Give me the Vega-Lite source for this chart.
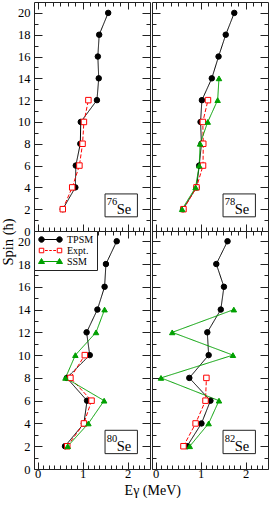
{
"$schema": "https://vega.github.io/schema/vega-lite/v6.json",
"padding": {"left": 0, "top": 1, "right": 0, "bottom": 0},
"datasets": {
"pts": [
{"n":"76","m":"TPSM","s":2,"E":0.56},{"n":"76","m":"TPSM","s":4,"E":0.84},{"n":"76","m":"TPSM","s":6,"E":0.85},{"n":"76","m":"TPSM","s":8,"E":0.95},{"n":"76","m":"TPSM","s":10,"E":0.96},{"n":"76","m":"TPSM","s":12,"E":1.32},{"n":"76","m":"TPSM","s":14,"E":1.36},{"n":"76","m":"TPSM","s":16,"E":1.34},{"n":"76","m":"TPSM","s":18,"E":1.37},{"n":"76","m":"TPSM","s":20,"E":1.57},
{"n":"76","m":"Expt.","s":2,"E":0.56},{"n":"76","m":"Expt.","s":4,"E":0.77},{"n":"76","m":"Expt.","s":6,"E":0.93},{"n":"76","m":"Expt.","s":8,"E":1.0},{"n":"76","m":"Expt.","s":10,"E":1.03},{"n":"76","m":"Expt.","s":12,"E":1.13},
{"n":"78","m":"TPSM","s":2,"E":0.61},{"n":"78","m":"TPSM","s":4,"E":0.91},{"n":"78","m":"TPSM","s":6,"E":0.97},{"n":"78","m":"TPSM","s":8,"E":1.02},{"n":"78","m":"TPSM","s":10,"E":1.0},{"n":"78","m":"TPSM","s":12,"E":1.03},{"n":"78","m":"TPSM","s":14,"E":1.25},{"n":"78","m":"TPSM","s":16,"E":1.4},{"n":"78","m":"TPSM","s":18,"E":1.56},{"n":"78","m":"TPSM","s":20,"E":1.75},
{"n":"78","m":"Expt.","s":2,"E":0.62},{"n":"78","m":"Expt.","s":4,"E":0.91},{"n":"78","m":"Expt.","s":6,"E":1.055},{"n":"78","m":"Expt.","s":8,"E":1.06},{"n":"78","m":"Expt.","s":10,"E":1.05},{"n":"78","m":"Expt.","s":12,"E":1.165},
{"n":"78","m":"SSM","s":2,"E":0.59},{"n":"78","m":"SSM","s":4,"E":0.89},{"n":"78","m":"SSM","s":6,"E":0.97},{"n":"78","m":"SSM","s":8,"E":0.99},{"n":"78","m":"SSM","s":10,"E":1.16},{"n":"78","m":"SSM","s":12,"E":1.38},{"n":"78","m":"SSM","s":14,"E":1.41},
{"n":"80","m":"TPSM","s":2,"E":0.61},{"n":"80","m":"TPSM","s":4,"E":1.03},{"n":"80","m":"TPSM","s":6,"E":1.1},{"n":"80","m":"TPSM","s":8,"E":0.65},{"n":"80","m":"TPSM","s":10,"E":1.16},{"n":"80","m":"TPSM","s":12,"E":1.09},{"n":"80","m":"TPSM","s":14,"E":1.33},{"n":"80","m":"TPSM","s":16,"E":1.49},{"n":"80","m":"TPSM","s":18,"E":1.52},{"n":"80","m":"TPSM","s":20,"E":1.76},
{"n":"80","m":"Expt.","s":2,"E":0.66},{"n":"80","m":"Expt.","s":4,"E":1.03},{"n":"80","m":"Expt.","s":6,"E":1.2},{"n":"80","m":"Expt.","s":8,"E":0.73},{"n":"80","m":"Expt.","s":10,"E":1.05},
{"n":"80","m":"SSM","s":2,"E":0.67},{"n":"80","m":"SSM","s":4,"E":1.13},{"n":"80","m":"SSM","s":6,"E":1.48},{"n":"80","m":"SSM","s":8,"E":0.62},{"n":"80","m":"SSM","s":10,"E":0.84},{"n":"80","m":"SSM","s":12,"E":1.3},{"n":"80","m":"SSM","s":14,"E":1.49},
{"n":"82","m":"TPSM","s":2,"E":0.7},{"n":"82","m":"TPSM","s":4,"E":1.02},{"n":"82","m":"TPSM","s":6,"E":1.22},{"n":"82","m":"TPSM","s":8,"E":0.75},{"n":"82","m":"TPSM","s":10,"E":1.18},{"n":"82","m":"TPSM","s":12,"E":1.15},{"n":"82","m":"TPSM","s":14,"E":1.45},{"n":"82","m":"TPSM","s":16,"E":1.52},{"n":"82","m":"TPSM","s":18,"E":1.35},{"n":"82","m":"TPSM","s":20,"E":1.6},
{"n":"82","m":"Expt.","s":2,"E":0.62},{"n":"82","m":"Expt.","s":4,"E":0.89},{"n":"82","m":"Expt.","s":6,"E":1.11},{"n":"82","m":"Expt.","s":8,"E":1.13},
{"n":"82","m":"SSM","s":2,"E":0.76},{"n":"82","m":"SSM","s":4,"E":1.18},{"n":"82","m":"SSM","s":6,"E":1.41},{"n":"82","m":"SSM","s":8,"E":0.12},{"n":"82","m":"SSM","s":10,"E":1.72},{"n":"82","m":"SSM","s":12,"E":0.37},{"n":"82","m":"SSM","s":14,"E":1.74}
]
},
"title": {"text": "Eγ (MeV)", "orient": "bottom", "anchor": "middle", "frame": "bounds", "dx": 18, "offset": 1, "font": "Liberation Serif", "fontSize": 14, "fontWeight": "normal", "color": "black"},
"spacing": 0,
"resolve": {"scale": {"color": "independent", "fill": "independent", "stroke": "independent", "shape": "independent", "strokeDash": "independent"}},
"hconcat": [
{
"spacing": 0, "bounds": "flush",
"title": {"text": "Spin (ħ)", "orient": "left", "anchor": "middle", "frame": "bounds", "offset": 1, "font": "Liberation Serif", "fontSize": 14.5, "fontWeight": "normal", "color": "black"},
"resolve": {"scale": {"color": "independent", "fill": "independent", "stroke": "independent", "shape": "independent", "strokeDash": "independent"}},
"vconcat": [
{
"width": 116, "height": 229,
"resolve": {"axis": {"x": "independent", "y": "independent"}},
"layer": [
{"data": {"name": "pts"}, "transform": [{"filter": "datum.n === '76'"}],
 "mark": {"type": "line", "strokeWidth": 1},
 "encoding": {
  "x": {"field": "E", "type": "quantitative", "scale": {"domain": [-0.08, 2.5], "nice": false, "zero": false},
        "axis": {"orient": "bottom", "values": [0,0.125,0.25,0.375,0.5,0.625,0.75,0.875,1,1.125,1.25,1.375,1.5,1.625,1.75,1.875,2,2.125,2.25,2.375], "tickSize": {"condition": {"test": "abs(datum.value-round(datum.value))>0.01", "value": -4}, "value": -7}, "labels": false, "title": null}},
  "y": {"field": "s", "type": "quantitative", "scale": {"domain": [0, 21], "nice": false, "zero": false},
        "axis": {"orient": "left", "values": [0,1,2,3,4,5,6,7,8,9,10,11,12,13,14,15,16,17,18,19,20], "tickSize": {"condition": {"test": "datum.value % 2 !== 0", "value": -4}, "value": -8}, "labelExpr": "datum.value % 2 ? '' : datum.label", "labelPadding": 12, "title": null}},
  "color": {"field": "m", "type": "nominal", "scale": {"domain": ["TPSM","Expt.","SSM"], "range": ["black","#ff0000","#00a000"]}, "legend": null},
  "strokeDash": {"field": "m", "type": "nominal", "scale": {"domain": ["TPSM","Expt.","SSM"], "range": [[1,0],[4,2],[1,0]]}, "legend": null},
  "order": {"field": "s", "type": "quantitative"}
 }},
{"data": {"name": "pts"}, "transform": [{"filter": "datum.n === '76'"}],
 "mark": {"type": "point", "filled": true, "size": 30, "strokeWidth": 1, "opacity": 1},
 "encoding": {
  "x": {"field": "E", "type": "quantitative", "scale": {"domain": [-0.08, 2.5], "nice": false, "zero": false},
        "axis": {"orient": "top", "values": [0,0.1667,0.3333,0.5,0.6667,0.8333,1,1.1667,1.3333,1.5,1.6667,1.8333,2,2.1667,2.3333], "tickSize": {"condition": {"test": "abs(datum.value-round(datum.value))>0.01", "value": -4}, "value": -7}, "labels": false, "title": null}},
  "y": {"field": "s", "type": "quantitative", "scale": {"domain": [0, 21], "nice": false, "zero": false},
        "axis": {"orient": "right", "values": [0,1,2,3,4,5,6,7,8,9,10,11,12,13,14,15,16,17,18,19,20], "tickSize": {"condition": {"test": "datum.value % 2 !== 0", "value": -4}, "value": -8}, "labels": false, "title": null}},
  "shape": {"field": "m", "type": "nominal", "scale": {"domain": ["TPSM","Expt.","SSM"], "range": ["circle","square","triangle-up"]}, "legend": null},
  "fill": {"field": "m", "type": "nominal", "scale": {"domain": ["TPSM","Expt.","SSM"], "range": ["black","white","#00a000"]}, "legend": null},
  "stroke": {"field": "m", "type": "nominal", "scale": {"domain": ["TPSM","Expt.","SSM"], "range": ["black","#ff0000","#00a000"]}, "legend": null}
 }},
{"data": {"values": [{"a": "76", "b": "Se"}]},
 "mark": {"type": "rect", "fill": "white", "stroke": "#222", "strokeWidth": 1},
 "encoding": {"x": {"datum": 1.5, "type": "quantitative", "axis": null}, "x2": {"datum": 2.22}, "y": {"datum": 1.3, "type": "quantitative", "axis": null}, "y2": {"datum": 3.4}}},
{"data": {"values": [{"a": "76", "b": "Se"}]},
 "mark": {"type": "text", "align": "left", "baseline": "alphabetic", "font": "Liberation Serif", "fontSize": 10.5, "color": "black"},
 "encoding": {"x": {"datum": 1.54, "type": "quantitative", "axis": null}, "y": {"datum": 2.35, "type": "quantitative", "axis": null}, "text": {"field": "a"}}},
{"data": {"values": [{"a": "76", "b": "Se"}]},
 "mark": {"type": "text", "align": "left", "baseline": "alphabetic", "font": "Liberation Serif", "fontSize": 14.5, "color": "black"},
 "encoding": {"x": {"datum": 1.76, "type": "quantitative", "axis": null}, "y": {"datum": 1.55, "type": "quantitative", "axis": null}, "text": {"field": "b"}}}
]
},
{
"width": 116, "height": 238,
"resolve": {"axis": {"x": "independent", "y": "independent"}},
"layer": [
{"data": {"name": "pts"}, "transform": [{"filter": "datum.n === '80'"}],
 "mark": {"type": "line", "strokeWidth": 1},
 "encoding": {
  "x": {"field": "E", "type": "quantitative", "scale": {"domain": [-0.08, 2.5], "nice": false, "zero": false},
        "axis": {"orient": "bottom", "values": [0,0.125,0.25,0.375,0.5,0.625,0.75,0.875,1,1.125,1.25,1.375,1.5,1.625,1.75,1.875,2,2.125,2.25,2.375], "tickSize": {"condition": {"test": "abs(datum.value-round(datum.value))>0.01", "value": -4}, "value": -7}, "labelExpr": "abs(datum.value-round(datum.value))>0.01 ? '' : format(datum.value, 'd')", "labelPadding": 5, "title": null}},
  "y": {"field": "s", "type": "quantitative", "scale": {"domain": [0, 20.9], "nice": false, "zero": false},
        "axis": {"orient": "left", "values": [0,1,2,3,4,5,6,7,8,9,10,11,12,13,14,15,16,17,18,19,20], "tickSize": {"condition": {"test": "datum.value % 2 !== 0", "value": -4}, "value": -8}, "labelExpr": "datum.value % 2 ? '' : datum.label", "labelPadding": 12, "title": null}},
  "color": {"field": "m", "type": "nominal", "scale": {"range": ["#ff0000","#00a000","black"]}, "legend": null},
  "strokeDash": {"field": "m", "type": "nominal", "scale": {"range": [[4,2],[1,0],[1,0]]}, "legend": null},
  "order": {"field": "s", "type": "quantitative"}
 }},
{"data": {"name": "pts"}, "transform": [{"filter": "datum.n === '80' && datum.m === 'TPSM'"}],
 "mark": {"type": "point", "shape": "circle", "filled": true, "fill": "black", "stroke": "black", "size": 30, "strokeWidth": 1, "opacity": 1},
 "encoding": {
  "x": {"field": "E", "type": "quantitative", "scale": {"domain": [-0.08, 2.5], "nice": false, "zero": false},
        "axis": {"orient": "top", "values": [0,0.1667,0.3333,0.5,0.6667,0.8333,1,1.1667,1.3333,1.5,1.6667,1.8333,2,2.1667,2.3333], "tickSize": {"condition": {"test": "abs(datum.value-round(datum.value))>0.01", "value": -4}, "value": -7}, "labels": false, "title": null}},
  "y": {"field": "s", "type": "quantitative", "scale": {"domain": [0, 20.9], "nice": false, "zero": false},
        "axis": {"orient": "right", "values": [0,1,2,3,4,5,6,7,8,9,10,11,12,13,14,15,16,17,18,19,20], "tickSize": {"condition": {"test": "datum.value % 2 !== 0", "value": -4}, "value": -8}, "labels": false, "title": null}}
 }},
{"data": {"name": "pts"}, "transform": [{"filter": "datum.n === '80' && datum.m === 'Expt.'"}],
 "mark": {"type": "point", "shape": "square", "filled": true, "fill": "white", "stroke": "#ff0000", "size": 30, "strokeWidth": 1, "opacity": 1},
 "encoding": {
  "x": {"field": "E", "type": "quantitative", "axis": null},
  "y": {"field": "s", "type": "quantitative", "axis": null}
 }},
{"data": {"name": "pts"}, "transform": [{"filter": "datum.n === '80' && datum.m === 'SSM'"}],
 "mark": {"type": "point", "shape": "triangle-up", "filled": true, "fill": "#00a000", "stroke": "#00a000", "size": 30, "strokeWidth": 1, "opacity": 1},
 "encoding": {
  "x": {"field": "E", "type": "quantitative", "axis": null},
  "y": {"field": "s", "type": "quantitative", "axis": null}
 }},
{"data": {"name": "pts"}, "transform": [{"filter": "false"}],
 "mark": {"type": "point", "filled": true, "opacity": 1},
 "encoding": {
  "shape": {"field": "m", "type": "nominal", "scale": {"domain": ["TPSM","Expt.","SSM"], "range": [
     "M-1.8,0H1.8M-2.35,0A0.55,0.55,0,1,0,-1.25,0A0.55,0.55,0,1,0,-2.35,0ZM1.25,0A0.55,0.55,0,1,0,2.35,0A0.55,0.55,0,1,0,1.25,0Z",
     "M-2.25,-0.45H-1.35V0.45H-2.25ZM1.35,-0.45H2.25V0.45H1.35ZM-1.1,0H-0.55M-0.25,0H0.25M0.55,0H1.1",
     "M-1.8,0H1.8M-1.8,-0.6L-1.2,0.4L-2.4,0.4ZM1.8,-0.6L2.4,0.4L1.2,0.4Z"]},
   "legend": {"orient": "top-left", "offset": 0, "padding": 3, "title": null, "strokeColor": "#222", "fillColor": "white",
    "labelFont": "Liberation Serif", "labelFontSize": 10, "labelColor": "black", "symbolSize": 100, "symbolOffset": 8, "symbolStrokeWidth": 1, "symbolOpacity": 1, "labelOffset": 11, "rowPadding": 0}},
  "fill": {"field": "m", "type": "nominal", "scale": {"domain": ["TPSM","Expt.","SSM"], "range": ["black","white","#00a000"]}, "legend": {"title": null}},
  "stroke": {"field": "m", "type": "nominal", "scale": {"domain": ["TPSM","Expt.","SSM"], "range": ["black","#ff0000","#00a000"]}, "legend": {"title": null}}
 }},
{"data": {"values": [{"a": "80", "b": "Se"}]},
 "mark": {"type": "rect", "fill": "white", "stroke": "#222", "strokeWidth": 1},
 "encoding": {"x": {"datum": 1.5, "type": "quantitative", "axis": null}, "x2": {"datum": 2.22}, "y": {"datum": 1.35, "type": "quantitative", "axis": null}, "y2": {"datum": 3.4}}},
{"data": {"values": [{"a": "80", "b": "Se"}]},
 "mark": {"type": "text", "align": "left", "baseline": "alphabetic", "font": "Liberation Serif", "fontSize": 10.5, "color": "black"},
 "encoding": {"x": {"datum": 1.54, "type": "quantitative", "axis": null}, "y": {"datum": 2.35, "type": "quantitative", "axis": null}, "text": {"field": "a"}}},
{"data": {"values": [{"a": "80", "b": "Se"}]},
 "mark": {"type": "text", "align": "left", "baseline": "alphabetic", "font": "Liberation Serif", "fontSize": 14.5, "color": "black"},
 "encoding": {"x": {"datum": 1.76, "type": "quantitative", "axis": null}, "y": {"datum": 1.58, "type": "quantitative", "axis": null}, "text": {"field": "b"}}}
]
}
]
},
{
"spacing": 0, "bounds": "flush",
"resolve": {"scale": {"color": "independent", "fill": "independent", "stroke": "independent", "shape": "independent", "strokeDash": "independent"}},
"vconcat": [
{
"width": 116, "height": 229,
"resolve": {"axis": {"x": "independent", "y": "independent"}},
"layer": [
{"data": {"name": "pts"}, "transform": [{"filter": "datum.n === '78'"}],
 "mark": {"type": "line", "strokeWidth": 1},
 "encoding": {
  "x": {"field": "E", "type": "quantitative", "scale": {"domain": [-0.08, 2.5], "nice": false, "zero": false},
        "axis": {"orient": "bottom", "values": [0,0.125,0.25,0.375,0.5,0.625,0.75,0.875,1,1.125,1.25,1.375,1.5,1.625,1.75,1.875,2,2.125,2.25,2.375], "tickSize": {"condition": {"test": "abs(datum.value-round(datum.value))>0.01", "value": -4}, "value": -7}, "labels": false, "title": null}},
  "y": {"field": "s", "type": "quantitative", "scale": {"domain": [0, 21], "nice": false, "zero": false},
        "axis": {"orient": "left", "values": [0,1,2,3,4,5,6,7,8,9,10,11,12,13,14,15,16,17,18,19,20], "tickSize": {"condition": {"test": "datum.value % 2 !== 0", "value": -4}, "value": -8}, "labels": false, "title": null}},
  "color": {"field": "m", "type": "nominal", "scale": {"domain": ["TPSM","Expt.","SSM"], "range": ["black","#ff0000","#00a000"]}, "legend": null},
  "strokeDash": {"field": "m", "type": "nominal", "scale": {"domain": ["TPSM","Expt.","SSM"], "range": [[1,0],[4,2],[1,0]]}, "legend": null},
  "order": {"field": "s", "type": "quantitative"}
 }},
{"data": {"name": "pts"}, "transform": [{"filter": "datum.n === '78'"}],
 "mark": {"type": "point", "filled": true, "size": 30, "strokeWidth": 1, "opacity": 1},
 "encoding": {
  "x": {"field": "E", "type": "quantitative", "scale": {"domain": [-0.08, 2.5], "nice": false, "zero": false},
        "axis": {"orient": "top", "values": [0,0.1667,0.3333,0.5,0.6667,0.8333,1,1.1667,1.3333,1.5,1.6667,1.8333,2,2.1667,2.3333], "tickSize": {"condition": {"test": "abs(datum.value-round(datum.value))>0.01", "value": -4}, "value": -7}, "labels": false, "title": null}},
  "y": {"field": "s", "type": "quantitative", "scale": {"domain": [0, 21], "nice": false, "zero": false},
        "axis": {"orient": "right", "values": [0,1,2,3,4,5,6,7,8,9,10,11,12,13,14,15,16,17,18,19,20], "tickSize": {"condition": {"test": "datum.value % 2 !== 0", "value": -4}, "value": -8}, "labels": false, "title": null}},
  "shape": {"field": "m", "type": "nominal", "scale": {"domain": ["TPSM","Expt.","SSM"], "range": ["circle","square","triangle-up"]}, "legend": null},
  "fill": {"field": "m", "type": "nominal", "scale": {"domain": ["TPSM","Expt.","SSM"], "range": ["black","white","#00a000"]}, "legend": null},
  "stroke": {"field": "m", "type": "nominal", "scale": {"domain": ["TPSM","Expt.","SSM"], "range": ["black","#ff0000","#00a000"]}, "legend": null}
 }},
{"data": {"values": [{"a": "78", "b": "Se"}]},
 "mark": {"type": "rect", "fill": "white", "stroke": "#222", "strokeWidth": 1},
 "encoding": {"x": {"datum": 1.5, "type": "quantitative", "axis": null}, "x2": {"datum": 2.22}, "y": {"datum": 1.3, "type": "quantitative", "axis": null}, "y2": {"datum": 3.4}}},
{"data": {"values": [{"a": "78", "b": "Se"}]},
 "mark": {"type": "text", "align": "left", "baseline": "alphabetic", "font": "Liberation Serif", "fontSize": 10.5, "color": "black"},
 "encoding": {"x": {"datum": 1.54, "type": "quantitative", "axis": null}, "y": {"datum": 2.35, "type": "quantitative", "axis": null}, "text": {"field": "a"}}},
{"data": {"values": [{"a": "78", "b": "Se"}]},
 "mark": {"type": "text", "align": "left", "baseline": "alphabetic", "font": "Liberation Serif", "fontSize": 14.5, "color": "black"},
 "encoding": {"x": {"datum": 1.76, "type": "quantitative", "axis": null}, "y": {"datum": 1.55, "type": "quantitative", "axis": null}, "text": {"field": "b"}}}
]
},
{
"width": 116, "height": 238,
"resolve": {"axis": {"x": "independent", "y": "independent"}},
"layer": [
{"data": {"name": "pts"}, "transform": [{"filter": "datum.n === '82'"}],
 "mark": {"type": "line", "strokeWidth": 1},
 "encoding": {
  "x": {"field": "E", "type": "quantitative", "scale": {"domain": [-0.08, 2.5], "nice": false, "zero": false},
        "axis": {"orient": "bottom", "values": [0,0.125,0.25,0.375,0.5,0.625,0.75,0.875,1,1.125,1.25,1.375,1.5,1.625,1.75,1.875,2,2.125,2.25,2.375], "tickSize": {"condition": {"test": "abs(datum.value-round(datum.value))>0.01", "value": -4}, "value": -7}, "labelExpr": "abs(datum.value-round(datum.value))>0.01 ? '' : format(datum.value, 'd')", "labelPadding": 5, "title": null}},
  "y": {"field": "s", "type": "quantitative", "scale": {"domain": [0, 20.9], "nice": false, "zero": false},
        "axis": {"orient": "left", "values": [0,1,2,3,4,5,6,7,8,9,10,11,12,13,14,15,16,17,18,19,20], "tickSize": {"condition": {"test": "datum.value % 2 !== 0", "value": -4}, "value": -8}, "labels": false, "title": null}},
  "color": {"field": "m", "type": "nominal", "scale": {"domain": ["TPSM","Expt.","SSM"], "range": ["black","#ff0000","#00a000"]}, "legend": null},
  "strokeDash": {"field": "m", "type": "nominal", "scale": {"domain": ["TPSM","Expt.","SSM"], "range": [[1,0],[4,2],[1,0]]}, "legend": null},
  "order": {"field": "s", "type": "quantitative"}
 }},
{"data": {"name": "pts"}, "transform": [{"filter": "datum.n === '82'"}],
 "mark": {"type": "point", "filled": true, "size": 30, "strokeWidth": 1, "opacity": 1},
 "encoding": {
  "x": {"field": "E", "type": "quantitative", "scale": {"domain": [-0.08, 2.5], "nice": false, "zero": false},
        "axis": {"orient": "top", "values": [0,0.1667,0.3333,0.5,0.6667,0.8333,1,1.1667,1.3333,1.5,1.6667,1.8333,2,2.1667,2.3333], "tickSize": {"condition": {"test": "abs(datum.value-round(datum.value))>0.01", "value": -4}, "value": -7}, "labels": false, "title": null}},
  "y": {"field": "s", "type": "quantitative", "scale": {"domain": [0, 20.9], "nice": false, "zero": false},
        "axis": {"orient": "right", "values": [0,1,2,3,4,5,6,7,8,9,10,11,12,13,14,15,16,17,18,19,20], "tickSize": {"condition": {"test": "datum.value % 2 !== 0", "value": -4}, "value": -8}, "labels": false, "title": null}},
  "shape": {"field": "m", "type": "nominal", "scale": {"domain": ["TPSM","Expt.","SSM"], "range": ["circle","square","triangle-up"]}, "legend": null},
  "fill": {"field": "m", "type": "nominal", "scale": {"domain": ["TPSM","Expt.","SSM"], "range": ["black","white","#00a000"]}, "legend": null},
  "stroke": {"field": "m", "type": "nominal", "scale": {"domain": ["TPSM","Expt.","SSM"], "range": ["black","#ff0000","#00a000"]}, "legend": null}
 }},
{"data": {"values": [{"a": "82", "b": "Se"}]},
 "mark": {"type": "rect", "fill": "white", "stroke": "#222", "strokeWidth": 1},
 "encoding": {"x": {"datum": 1.5, "type": "quantitative", "axis": null}, "x2": {"datum": 2.22}, "y": {"datum": 1.35, "type": "quantitative", "axis": null}, "y2": {"datum": 3.4}}},
{"data": {"values": [{"a": "82", "b": "Se"}]},
 "mark": {"type": "text", "align": "left", "baseline": "alphabetic", "font": "Liberation Serif", "fontSize": 10.5, "color": "black"},
 "encoding": {"x": {"datum": 1.54, "type": "quantitative", "axis": null}, "y": {"datum": 2.35, "type": "quantitative", "axis": null}, "text": {"field": "a"}}},
{"data": {"values": [{"a": "82", "b": "Se"}]},
 "mark": {"type": "text", "align": "left", "baseline": "alphabetic", "font": "Liberation Serif", "fontSize": 14.5, "color": "black"},
 "encoding": {"x": {"datum": 1.76, "type": "quantitative", "axis": null}, "y": {"datum": 1.58, "type": "quantitative", "axis": null}, "text": {"field": "b"}}}
]
}
]
}
],
"config": {
 "view": {"stroke": "#222", "strokeWidth": 1},
 "font": "Liberation Serif",
 "axis": {"domain": false, "grid": false, "tickColor": "#222", "tickWidth": 1, "labelFont": "Liberation Serif", "labelFontSize": 12.5, "labelColor": "black", "labelFlush": false, "labelOverlap": false, "labelBound": false, "titleFont": "Liberation Serif", "titleFontSize": 14, "titleFontWeight": "normal", "titleColor": "black"}
}
}
